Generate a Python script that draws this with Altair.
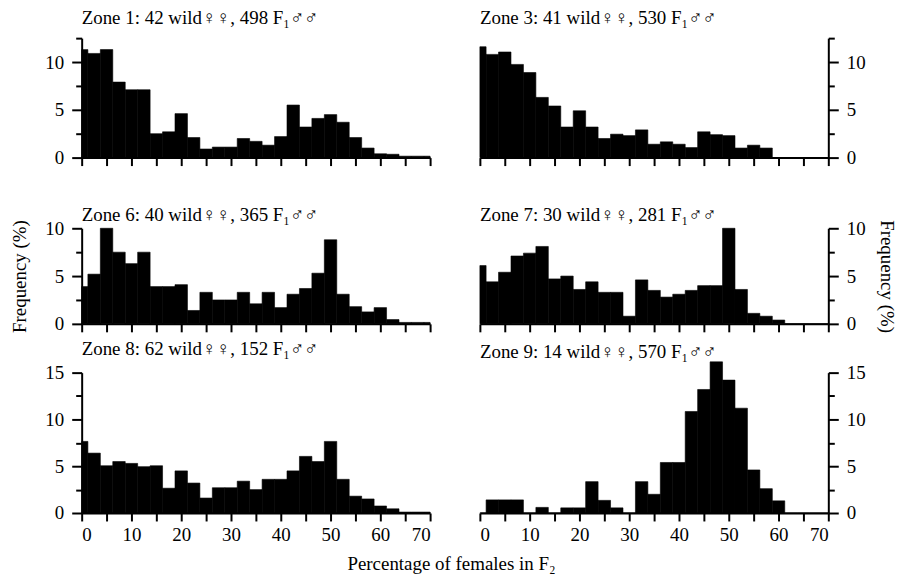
import altair as alt
import pandas as pd

# bin centres (% females in F2), bins 2.5 wide
centers = [i * 2.5 for i in range(29)]

zone1 = [11.3, 10.9, 11.3, 7.9, 7.1, 7.1, 2.5, 2.7, 4.6, 2.1, 0.9, 1.1, 1.1, 2.0, 1.7,
         1.3, 2.2, 5.5, 3.2, 4.1, 4.5, 3.7, 2.1, 1.0, 0.4, 0.35, 0.15, 0.15, 0.15]
zone3 = [11.6, 10.8, 11.05, 9.75, 8.9, 6.3, 5.4, 3.2, 4.9, 3.2, 2.0, 2.45, 2.3, 2.9, 1.4,
         1.65, 1.4, 1.05, 2.7, 2.4, 2.3, 1.0, 1.3, 1.0, 0, 0, 0, 0, 0]
zone6 = [3.9, 5.2, 10.0, 7.5, 6.3, 7.5, 3.9, 3.9, 4.1, 1.4, 3.3, 2.5, 2.5, 3.3, 2.1,
         3.3, 1.7, 3.1, 3.7, 5.3, 8.8, 3.1, 1.8, 1.25, 1.7, 0.45, 0.15, 0.15, 0.15]
zone7 = [6.1, 4.4, 5.4, 7.1, 7.4, 8.1, 4.7, 5.0, 3.6, 4.4, 3.3, 3.3, 0.8, 4.6, 3.5,
         2.8, 3.1, 3.5, 4.0, 4.0, 10.0, 3.6, 1.1, 0.8, 0.4, 0, 0, 0, 0]
zone8 = [7.65, 6.4, 5.05, 5.5, 5.3, 4.95, 5.05, 2.65, 4.5, 3.2, 1.6, 2.7, 2.7, 3.4, 2.5,
         3.6, 3.6, 4.5, 6.05, 5.5, 7.65, 3.6, 1.8, 1.5, 0.75, 0.45, 0.1, 0.1, 0.1]
zone9 = [0, 1.4, 1.4, 1.4, 0, 0.6, 0, 0.55, 0.55, 3.35, 1.35, 0.55, 0, 3.35, 2.0,
         5.4, 5.4, 10.85, 13.2, 16.15, 14.2, 11.2, 4.6, 2.6, 1.3, 0, 0, 0, 0]

titles = [
    "Zone 1: 42 wild\u2640\u2640, 498 F\u2081\u2642\u2642",
    "Zone 3: 41 wild\u2640\u2640, 530 F\u2081\u2642\u2642",
    "Zone 6: 40 wild\u2640\u2640, 365 F\u2081\u2642\u2642",
    "Zone 7: 30 wild\u2640\u2640, 281 F\u2081\u2642\u2642",
    "Zone 8: 62 wild\u2640\u2640, 152 F\u2081\u2642\u2642",
    "Zone 9: 14 wild\u2640\u2640, 570 F\u2081\u2642\u2642",
]
x_ticks = list(range(0, 71, 5))
x_title = "Percentage of females in F\u2082"
y_title = "Frequency (%)"

FONT = "Liberation Serif"
FS = 19
W = 350


def panel(vals, title, ymax, orient, height, yrange=None, xlabels=False,
          xtitle=None, ytitle=None, toff=16, ytpad=18):
    df = pd.DataFrame({"c": centers, "f": vals})
    df["x0"] = (df["c"] - 1.25).clip(lower=0)
    df["x1"] = (df["c"] + 1.25).clip(upper=70)
    df["base"] = 0.0
    yvals = [i * 2.5 for i in range(int(round(ymax / 2.5)) + 1)]
    if yrange is not None:
        yscale = alt.Scale(domain=[0, ymax], nice=False, zero=True, range=yrange)
    else:
        yscale = alt.Scale(domain=[0, ymax], nice=False, zero=True)
    xaxis_kw = dict(values=x_ticks, tickSize=8, tickWidth=2, domainWidth=2,
                    domainColor="black", tickColor="black", grid=False,
                    labels=xlabels, labelFont=FONT, labelFontSize=FS,
                    labelColor="black", labelPadding=5, format="d", title=None)
    if xtitle:
        xaxis_kw.update(title=xtitle, titleFont=FONT, titleFontSize=FS,
                        titleFontWeight="normal", titleColor="black",
                        titleX=371, titleY=57, titleBaseline="alphabetic",
                        titleAlign="center")
    yaxis_kw = dict(values=yvals, orient=orient,
                    tickSize={"condition": {"test": "datum.value % 5 === 0", "value": 10}, "value": 6},
                    tickWidth=2, domainWidth=2, domainColor="black", tickColor="black",
                    grid=False, labelFont=FONT, labelFontSize=FS, labelColor="black",
                    labelPadding=8, labelExpr="datum.value % 5 === 0 ? datum.label : ''",
                    title=None)
    if ytitle:
        yaxis_kw.update(title=ytitle, titleFont=FONT, titleFontSize=FS,
                        titleFontWeight="normal", titleColor="black", titlePadding=ytpad)
    return (
        alt.Chart(df)
        .mark_rect(color="black", stroke="black", strokeWidth=0.6)
        .encode(
            x=alt.X("x0:Q", scale=alt.Scale(domain=[0, 70], nice=False), axis=alt.Axis(**xaxis_kw)),
            x2="x1:Q",
            y=alt.Y("f:Q", scale=yscale, axis=alt.Axis(**yaxis_kw)),
            y2="base:Q",
        )
        .properties(
            width=W, height=height,
            view=alt.ViewBackground(stroke="transparent", strokeWidth=0),
            title=alt.TitleParams(title, anchor="start", frame="group", font=FONT,
                                  fontSize=FS, fontWeight="normal", color="black",
                                  baseline="alphabetic", offset=toff),
        )
    )


p1 = panel(zone1, titles[0], 12.5, "left", 120, toff=-6)
p3 = panel(zone3, titles[1], 12.5, "right", 120, toff=-6)
p6 = panel(zone6, titles[2], 10, "left", 118, yrange=[118, 22], ytitle=y_title, toff=-34, ytpad=15)
p7 = panel(zone7, titles[3], 10, "right", 118, yrange=[118, 22], ytitle=y_title, toff=-34, ytpad=11)
p8 = panel(zone8, titles[4], 15, "left", 141, xlabels=True, xtitle=x_title, toff=-10)
p9 = panel(zone9, titles[5], 15, "right", 141, xlabels=True, toff=-15)

chart = (
    alt.concat(p1, p3, p6, p7, p8, p9, columns=2)
    .properties(spacing={"row": 49, "column": 50}, bounds="flush", align="each",
                padding={"left": 3, "top": 0, "right": 3, "bottom": 0})
    .configure_view(stroke="transparent", strokeWidth=0)
    .configure(background="white")
)

chart.save("out.html", embed_options={"renderer": "svg", "actions": False})
